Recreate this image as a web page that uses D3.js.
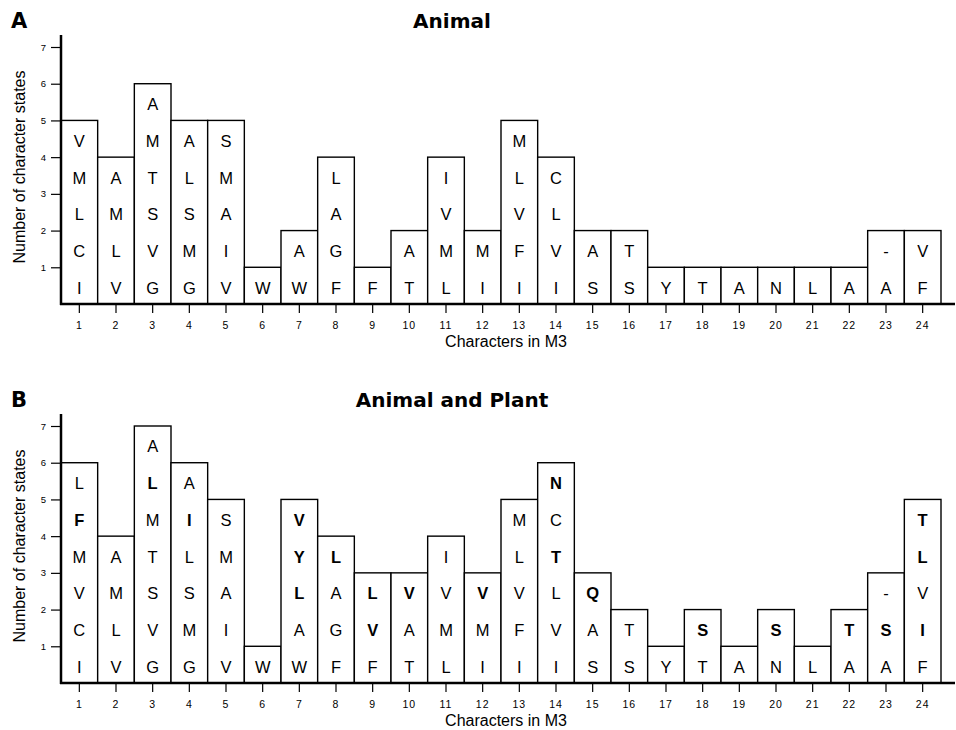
<!DOCTYPE html>
<html><head><meta charset="utf-8">
<script src="https://cdn.jsdelivr.net/npm/d3@7"></script>
<style>body{margin:0;background:#fff}</style>
</head><body><svg id="c" width="956" height="730"></svg>
<script>
const categories = ["1","2","3","4","5","6","7","8","9","10","11","12","13","14","15","16","17","18","19","20","21","22","23","24"];
const yTicks = [1,2,3,4,5,6,7];

// Panel A (Animal): number of character states and states listed bottom -> top
const statesA = [5,4,6,5,5,1,2,4,1,2,4,2,5,4,2,2,1,1,1,1,1,1,2,2];
const lettersA = [
  ["I","C","L","M","V"],
  ["V","L","M","A"],
  ["G","V","S","T","M","A"],
  ["G","M","S","L","A"],
  ["V","I","A","M","S"],
  ["W"],
  ["W","A"],
  ["F","G","A","L"],
  ["F"],
  ["T","A"],
  ["L","M","V","I"],
  ["I","M"],
  ["I","F","V","L","M"],
  ["I","V","L","C"],
  ["S","A"],
  ["S","T"],
  ["Y"],
  ["T"],
  ["A"],
  ["N"],
  ["L"],
  ["A"],
  ["A","-"],
  ["F","V"]
];

// Panel B (Animal and Plant); "*" marks a bold (plant-only) state
const statesB = [6,4,7,6,5,1,5,4,3,3,4,3,5,6,3,2,1,2,1,2,1,2,3,5];
const lettersB = [
  ["I","C","V","M","F*","L"],
  ["V","L","M","A"],
  ["G","V","S","T","M","L*","A"],
  ["G","M","S","L","I*","A"],
  ["V","I","A","M","S"],
  ["W"],
  ["W","A","L*","Y*","V*"],
  ["F","G","A","L*"],
  ["F","V*","L*"],
  ["T","A","V*"],
  ["L","M","V","I"],
  ["I","M","V*"],
  ["I","F","V","L","M"],
  ["I","V","L","T*","C","N*"],
  ["S","A","Q*"],
  ["S","T"],
  ["Y"],
  ["T","S*"],
  ["A"],
  ["N","S*"],
  ["L"],
  ["A","T*"],
  ["A","S*","-"],
  ["F","I*","V","L*","T*"]
];

const panels = [
  {tag:"A", title:"Animal", states: statesA, letters: lettersA, top: 0},
  {tag:"B", title:"Animal and Plant", states: statesB, letters: lettersB, top: 379}
];

const SANS = "'Liberation Sans', Arial, Helvetica, sans-serif";
const BOLD = "'DejaVu Sans', 'Liberation Sans', sans-serif";
const svg = d3.select("#c");
const x = d3.scaleBand().domain(categories).range([61, 941]).padding(0);
const y = d3.scaleLinear().domain([0, 7]).range([304, 47]);

panels.forEach(p => {
  const g = svg.append("g").attr("transform", `translate(0,${p.top})`);

  // bars
  g.selectAll("rect.bar").data(categories).join("rect")
    .attr("class", "bar")
    .attr("x", d => x(d))
    .attr("y", (d, i) => y(p.states[i]))
    .attr("width", x.bandwidth())
    .attr("height", (d, i) => y(0) - y(p.states[i]))
    .attr("fill", "#fff").attr("stroke", "#000").attr("stroke-width", 1.4);

  // letters in cells
  const cells = [];
  p.letters.forEach((col, i) => col.forEach((s, j) => cells.push({
    cat: categories[i], level: j, ch: s.replace("*", ""), bold: s.endsWith("*")
  })));
  g.selectAll("text.cell").data(cells).join("text")
    .attr("class", "cell")
    .attr("x", d => x(d.cat) + x.bandwidth() / 2)
    .attr("y", d => y(d.level + 0.5) + 8)
    .attr("text-anchor", "middle")
    .attr("font-family", SANS)
    .attr("font-size", 16.5)
    .attr("font-weight", d => d.bold ? "bold" : "normal")
    .text(d => d.ch);

  // y axis
  const ya = g.append("g").attr("transform", "translate(61,0)")
    .call(d3.axisLeft(y).tickValues(yTicks).tickSize(10).tickPadding(5).tickFormat(d3.format("d")));
  ya.select(".domain").remove();
  ya.selectAll(".tick line").attr("stroke-width", 1.2);
  ya.selectAll(".tick text").attr("font-family", SANS).attr("font-size", 9.5);
  g.append("line").attr("x1", 61).attr("x2", 61).attr("y1", y(0) + 1).attr("y2", y(7.33))
    .attr("stroke", "#000").attr("stroke-width", 2.5);

  // x axis
  const xa = g.append("g").attr("transform", `translate(0,${y(0)})`)
    .call(d3.axisBottom(x).tickSize(9).tickPadding(9));
  xa.select(".domain").remove();
  xa.selectAll(".tick line").attr("stroke-width", 1.2);
  xa.selectAll(".tick text").attr("font-family", SANS).attr("font-size", 10.5).attr("letter-spacing", 1);
  g.append("line").attr("x1", 60).attr("x2", 955).attr("y1", y(0)).attr("y2", y(0))
    .attr("stroke", "#000").attr("stroke-width", 2.5);

  // labels
  g.append("text").attr("x", 506).attr("y", 347).attr("text-anchor", "middle")
    .attr("font-family", SANS).attr("font-size", 16).text("Characters in M3");
  g.append("text").attr("transform", "translate(25,167) rotate(-90)").attr("text-anchor", "middle")
    .attr("font-family", SANS).attr("font-size", 16).text("Number of character states");
  g.append("text").attr("x", 452).attr("y", 28).attr("text-anchor", "middle")
    .attr("font-family", BOLD).attr("font-weight", "bold").attr("font-size", 20).text(p.title);
  g.append("text").attr("x", 11).attr("y", 28)
    .attr("font-family", BOLD).attr("font-weight", "bold").attr("font-size", 21).text(p.tag);
});
</script></body></html>
